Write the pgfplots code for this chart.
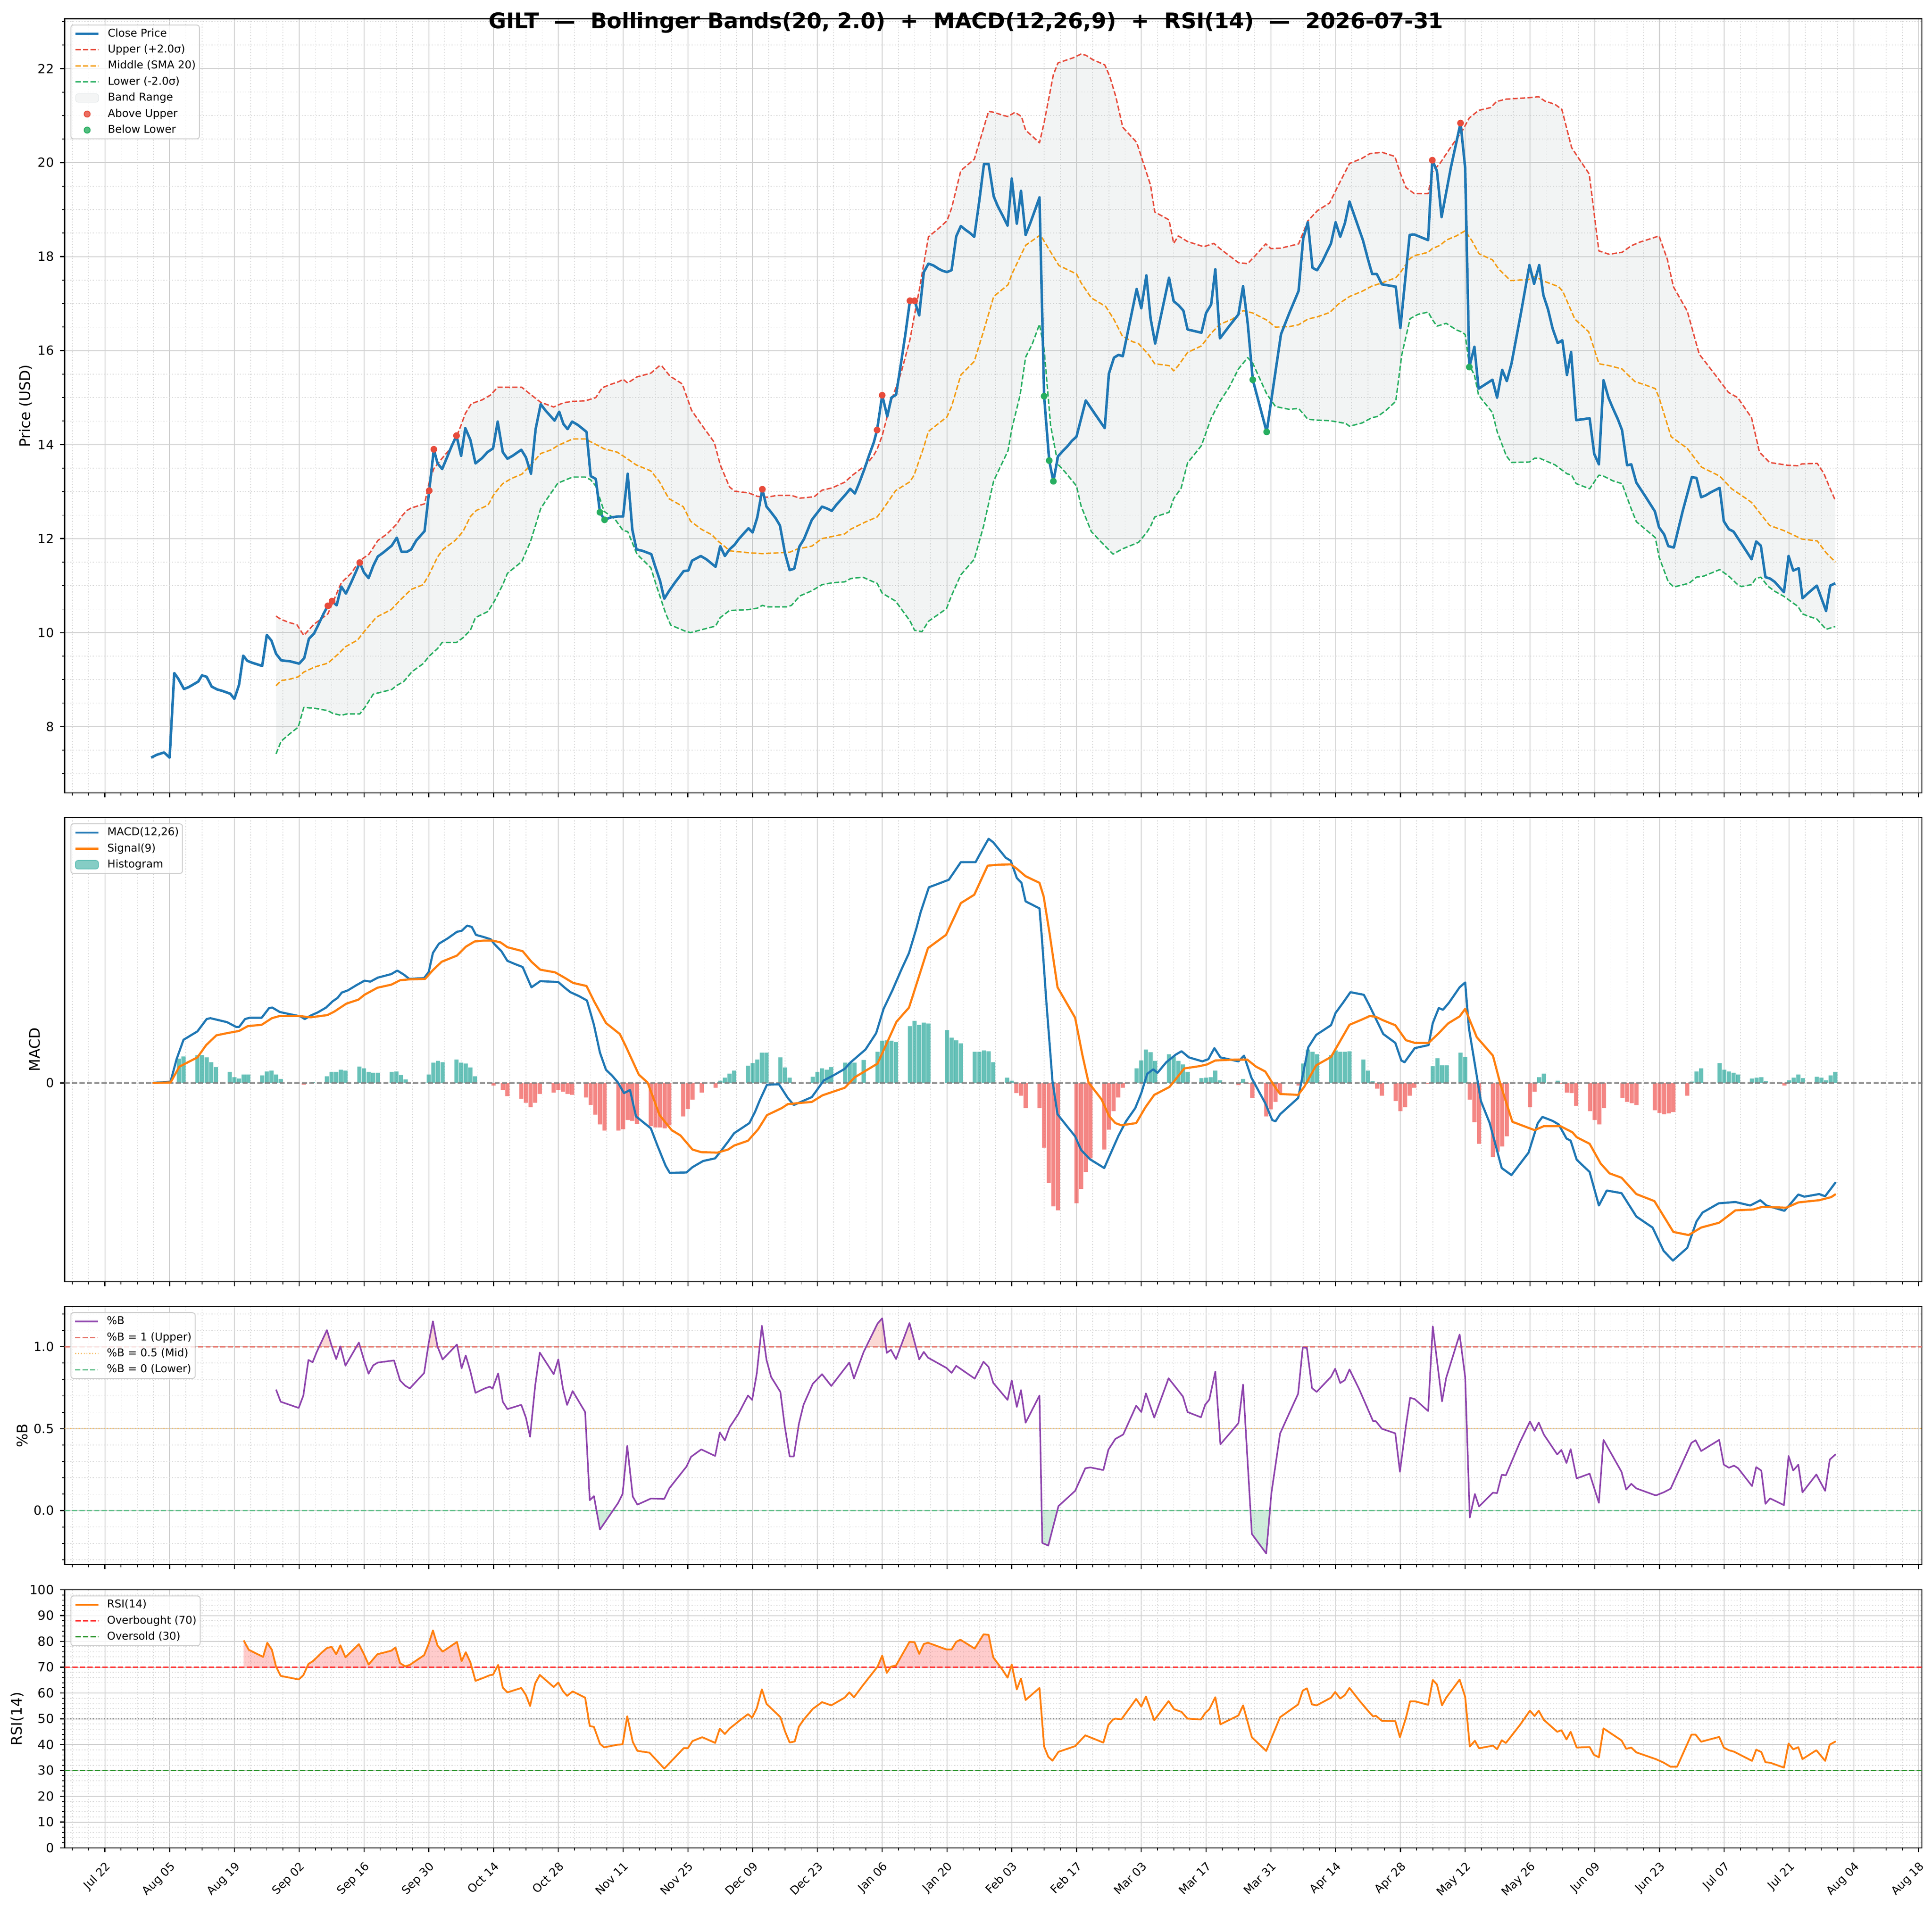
\documentclass[border=0pt]{standalone}
\usepackage{fontspec}
\setmainfont{DejaVu Sans}
\usepackage{pgfplots}
\pgfplotsset{compat=1.18}
\usepgfplotslibrary{fillbetween}
\definecolor{cblue}{HTML}{1F77B4}
\definecolor{corange}{HTML}{FF7F0E}
\definecolor{bred}{HTML}{E74C3C}
\definecolor{borange}{HTML}{F39C12}
\definecolor{bgreen}{HTML}{27AE60}
\definecolor{bandbase}{RGB}{149,165,166}
\definecolor{histpos}{HTML}{26A69A}
\definecolor{histneg}{HTML}{EF5350}
\definecolor{bpurple}{HTML}{8E44AD}
\definecolor{gridmaj}{RGB}{208,208,208}
\definecolor{gridmin}{RGB}{218,218,218}
\definecolor{pbline1}{RGB}{230,120,110}
\definecolor{pbline05}{RGB}{246,192,110}
\definecolor{pbline0}{RGB}{100,192,140}
\definecolor{obred}{RGB}{255,45,45}
\definecolor{osgreen}{RGB}{44,150,44}
\pgfplotsset{
  panel/.style={
    scale only axis, width=1052.15pt,
    xmin=-8.7, xmax=392.7,
    xtick={0,14,...,392},
    minor xtick={-7,-3.5,...,392},
    tick pos=left, tick align=outside,
    major tick length=2.5pt, minor tick length=1.4pt,
    major tick style={black, line width=0.6pt},
    minor tick style={black, line width=0.45pt},
    axis line style={line width=0.6pt},
    xmajorgrids, xminorgrids, ymajorgrids, yminorgrids,
    major grid style={draw=gridmaj, line width=0.5pt},
    minor grid style={draw=gridmin, line width=0.4pt, dash pattern=on 0.6pt off 1pt},
    tick label style={font=\fontsize{7.15}{8.6}\selectfont},
    ylabel style={font=\fontsize{8.25}{9.9}\selectfont},
    ylabel shift=-3.5pt,
    /pgf/number format/assume math mode=true,
    legend cell align=left,
    legend image code/.code={\draw[##1] (0pt,0pt) -- (13pt,0pt);},
    legend style={at={(0,1)}, anchor=north west, xshift=3.3pt, yshift=-3.3pt,
      font=\fontsize{6.1}{7.3}\selectfont, draw=black!20, line width=0.5pt, rounded corners=1.5pt,
      fill=white, fill opacity=0.8, text opacity=1, draw opacity=1,
      inner xsep=2pt, inner ysep=2pt, row sep=3.2pt, column sep=4.5pt,
      nodes={inner sep=0pt, text height=4.6pt, text depth=1.3pt}},
    every axis plot/.append style={line join=round},
  }
}
\begin{document}
\begin{tikzpicture}
%================ PRICE =================
\begin{axis}[panel, at={(36.6pt,-10.625pt)}, anchor=north west, height=438.625pt,
  ymin=6.59, ymax=23.06, ytick={8,10,...,22}, minor ytick={6.5,7,...,23},
  xticklabels={}, ylabel={Price (USD)}]
\addplot[draw=none, name path=upper, forget plot] coordinates {
(37.0,10.35)(38.1,10.28)(40.0,10.21)(41.5,10.17)(43.0,9.94)(44.1,10.06)(45.2,10.18)(46.2,10.25)(48.2,10.40)(49.3,10.65)(51.1,11.06)(53.2,11.26)(55.1,11.53)(57.1,11.67)(59.0,11.96)(61.0,12.10)(63.1,12.31)(64.1,12.47)(65.3,12.60)(66.2,12.65)(69.1,12.74)(70.1,13.20)(71.1,13.49)(72.9,13.71)(75.0,13.95)(76.0,14.17)(76.9,14.39)(77.9,14.66)(79.2,14.87)(81.5,14.95)(83.3,15.05)(84.9,15.22)(90.1,15.22)(92.1,15.06)(94.2,14.90)(97.0,14.80)(99.1,14.89)(101.1,14.92)(103.8,14.93)(106.1,15.00)(107.5,15.21)(109.3,15.28)(111.1,15.34)(112.0,15.39)(113.0,15.31)(115.0,15.44)(118.0,15.52)(119.9,15.68)(120.4,15.67)(122.1,15.46)(124.8,15.29)(126.8,14.73)(128.9,14.43)(131.7,14.05)(133.0,13.57)(135.0,13.10)(136.1,13.01)(139.2,12.97)(141.0,12.90)(143.1,12.88)(145.3,12.92)(148.4,12.92)(150.2,12.86)(153.3,12.89)(155.0,13.03)(157.2,13.08)(159.9,13.20)(161.6,13.35)(164.3,13.55)(166.1,13.76)(166.9,13.90)(168.0,14.19)(170.0,14.94)(172.1,15.53)(174.0,16.23)(175.0,16.77)(176.0,17.28)(178.0,18.42)(180.2,18.60)(182.0,18.76)(183.0,19.03)(185.0,19.83)(187.9,20.07)(189.0,20.43)(191.0,21.09)(192.1,21.07)(194.3,21.00)(195.2,20.98)(196.7,21.07)(198.1,20.98)(199.0,20.69)(202.0,20.42)(203.0,20.85)(205.0,21.87)(206.0,22.12)(209.3,22.23)(211.0,22.31)(212.1,22.28)(213.5,22.19)(216.1,22.08)(217.2,21.83)(218.5,21.40)(220.0,20.75)(223.0,20.43)(226.0,19.52)(226.9,18.95)(230.0,18.78)(231.0,18.28)(232.0,18.44)(234.0,18.32)(237.5,18.21)(239.7,18.28)(241.0,18.17)(245.0,17.87)(247.0,17.85)(249.0,18.06)(250.9,18.27)(252.0,18.17)(254.2,18.18)(258.0,18.27)(259.0,18.51)(260.0,18.76)(262.1,18.98)(264.7,19.14)(266.6,19.52)(269.0,19.98)(271.7,20.09)(273.4,20.19)(276.0,20.22)(278.8,20.13)(280.0,19.77)(281.2,19.47)(283.0,19.34)(286.0,19.34)(286.9,19.80)(288.6,19.99)(290.9,20.33)(293.4,20.68)(294.9,20.95)(296.9,21.11)(299.5,21.17)(300.8,21.30)(302.9,21.35)(307.7,21.38)(309.9,21.40)(311.2,21.31)(313.4,21.24)(314.9,21.13)(317.0,20.32)(318.6,20.08)(320.8,19.76)(322.9,18.12)(325.1,18.05)(327.9,18.09)(329.9,18.23)(331.8,18.31)(334.4,18.39)(335.9,18.44)(337.7,17.94)(339.0,17.36)(342.0,16.84)(344.6,15.92)(345.5,15.81)(349.0,15.36)(350.9,15.11)(352.9,15.00)(355.9,14.57)(357.6,13.84)(359.8,13.62)(363.7,13.56)(365.9,13.55)(366.8,13.59)(370.1,13.60)(371.5,13.39)(372.9,13.06)(374.0,12.81)};
\addplot[draw=none, name path=lower, forget plot] coordinates {
(37.0,7.42)(38.1,7.69)(40.0,7.85)(41.8,7.99)(43.0,8.41)(45.4,8.39)(48.2,8.34)(49.3,8.28)(51.1,8.24)(52.3,8.27)(55.1,8.27)(56.2,8.41)(58.0,8.69)(60.0,8.74)(62.0,8.79)(63.0,8.87)(64.6,8.96)(66.4,9.17)(68.8,9.34)(70.1,9.50)(71.9,9.66)(72.9,9.79)(76.0,9.79)(77.4,9.89)(79.0,10.05)(80.1,10.32)(82.8,10.45)(84.2,10.67)(86.0,11.02)(87.0,11.26)(90.1,11.51)(92.0,11.94)(94.2,12.64)(95.6,12.85)(97.9,13.18)(101.1,13.31)(103.8,13.31)(105.0,13.25)(106.1,13.12)(107.0,12.85)(107.9,12.58)(110.2,12.42)(112.0,12.17)(113.0,12.15)(115.0,11.67)(118.0,11.38)(119.3,10.97)(121.2,10.41)(122.3,10.16)(125.7,10.02)(126.6,10.00)(128.9,10.06)(132.0,10.14)(133.0,10.32)(135.0,10.47)(139.2,10.49)(141.0,10.52)(142.1,10.58)(143.1,10.55)(147.5,10.55)(148.4,10.58)(150.2,10.78)(152.8,10.89)(155.0,11.02)(157.2,11.06)(159.9,11.08)(161.2,11.15)(163.8,11.18)(166.1,11.08)(166.9,11.05)(168.0,10.84)(170.9,10.67)(174.0,10.25)(175.0,10.05)(176.6,10.02)(178.0,10.24)(181.9,10.51)(183.0,10.79)(185.0,11.23)(187.9,11.56)(189.9,12.26)(192.1,13.23)(195.2,13.87)(196.0,14.33)(197.8,15.05)(199.0,15.86)(200.4,16.13)(202.0,16.56)(203.0,16.03)(204.4,14.41)(206.0,13.58)(207.5,13.42)(210.0,13.12)(211.0,12.69)(213.2,12.15)(215.4,11.92)(217.9,11.67)(219.9,11.78)(223.4,11.92)(225.1,12.12)(226.0,12.26)(226.9,12.46)(230.0,12.56)(231.0,12.85)(232.6,13.07)(234.0,13.61)(237.0,13.98)(239.1,14.56)(241.0,14.92)(243.0,15.22)(245.0,15.61)(247.0,15.85)(248.1,15.73)(251.1,15.08)(253.0,14.81)(256.0,14.75)(258.0,14.77)(260.0,14.54)(262.1,14.52)(264.7,14.51)(268.2,14.45)(269.0,14.39)(271.7,14.46)(273.8,14.57)(275.1,14.60)(276.9,14.73)(279.0,14.92)(280.3,15.91)(282.1,16.68)(283.8,16.77)(286.0,16.82)(286.9,16.66)(287.9,16.52)(289.9,16.58)(292.1,16.44)(293.4,16.39)(294.0,16.34)(294.9,15.69)(296.0,15.48)(296.9,15.05)(299.9,14.68)(300.9,14.28)(302.9,13.76)(304.0,13.62)(307.9,13.63)(309.0,13.71)(310.1,13.71)(313.4,13.57)(314.9,13.46)(316.0,13.38)(317.0,13.35)(318.0,13.17)(320.9,13.06)(322.9,13.35)(323.9,13.33)(325.9,13.23)(327.9,13.17)(329.9,12.63)(331.0,12.36)(333.3,12.17)(335.1,12.02)(335.9,11.61)(337.9,11.08)(339.1,10.97)(342.4,11.05)(344.0,11.18)(345.5,11.20)(349.0,11.34)(351.0,11.20)(352.9,11.02)(353.7,10.98)(355.9,11.02)(356.8,11.15)(357.9,11.18)(359.4,10.99)(360.9,10.88)(362.9,10.77)(365.0,10.62)(365.9,10.56)(366.9,10.40)(368.1,10.35)(370.0,10.29)(372.0,10.07)(374.0,10.13)};
\addplot[fill=bandbase, fill opacity=0.12, draw=none, forget plot] fill between[of=upper and lower];
\addplot[bred, line width=0.8pt, dash pattern=on 2.9pt off 1.3pt, forget plot] coordinates {
(37.0,10.35)(38.1,10.28)(40.0,10.21)(41.5,10.17)(43.0,9.94)(44.1,10.06)(45.2,10.18)(46.2,10.25)(48.2,10.40)(49.3,10.65)(51.1,11.06)(53.2,11.26)(55.1,11.53)(57.1,11.67)(59.0,11.96)(61.0,12.10)(63.1,12.31)(64.1,12.47)(65.3,12.60)(66.2,12.65)(69.1,12.74)(70.1,13.20)(71.1,13.49)(72.9,13.71)(75.0,13.95)(76.0,14.17)(76.9,14.39)(77.9,14.66)(79.2,14.87)(81.5,14.95)(83.3,15.05)(84.9,15.22)(90.1,15.22)(92.1,15.06)(94.2,14.90)(97.0,14.80)(99.1,14.89)(101.1,14.92)(103.8,14.93)(106.1,15.00)(107.5,15.21)(109.3,15.28)(111.1,15.34)(112.0,15.39)(113.0,15.31)(115.0,15.44)(118.0,15.52)(119.9,15.68)(120.4,15.67)(122.1,15.46)(124.8,15.29)(126.8,14.73)(128.9,14.43)(131.7,14.05)(133.0,13.57)(135.0,13.10)(136.1,13.01)(139.2,12.97)(141.0,12.90)(143.1,12.88)(145.3,12.92)(148.4,12.92)(150.2,12.86)(153.3,12.89)(155.0,13.03)(157.2,13.08)(159.9,13.20)(161.6,13.35)(164.3,13.55)(166.1,13.76)(166.9,13.90)(168.0,14.19)(170.0,14.94)(172.1,15.53)(174.0,16.23)(175.0,16.77)(176.0,17.28)(178.0,18.42)(180.2,18.60)(182.0,18.76)(183.0,19.03)(185.0,19.83)(187.9,20.07)(189.0,20.43)(191.0,21.09)(192.1,21.07)(194.3,21.00)(195.2,20.98)(196.7,21.07)(198.1,20.98)(199.0,20.69)(202.0,20.42)(203.0,20.85)(205.0,21.87)(206.0,22.12)(209.3,22.23)(211.0,22.31)(212.1,22.28)(213.5,22.19)(216.1,22.08)(217.2,21.83)(218.5,21.40)(220.0,20.75)(223.0,20.43)(226.0,19.52)(226.9,18.95)(230.0,18.78)(231.0,18.28)(232.0,18.44)(234.0,18.32)(237.5,18.21)(239.7,18.28)(241.0,18.17)(245.0,17.87)(247.0,17.85)(249.0,18.06)(250.9,18.27)(252.0,18.17)(254.2,18.18)(258.0,18.27)(259.0,18.51)(260.0,18.76)(262.1,18.98)(264.7,19.14)(266.6,19.52)(269.0,19.98)(271.7,20.09)(273.4,20.19)(276.0,20.22)(278.8,20.13)(280.0,19.77)(281.2,19.47)(283.0,19.34)(286.0,19.34)(286.9,19.80)(288.6,19.99)(290.9,20.33)(293.4,20.68)(294.9,20.95)(296.9,21.11)(299.5,21.17)(300.8,21.30)(302.9,21.35)(307.7,21.38)(309.9,21.40)(311.2,21.31)(313.4,21.24)(314.9,21.13)(317.0,20.32)(318.6,20.08)(320.8,19.76)(322.9,18.12)(325.1,18.05)(327.9,18.09)(329.9,18.23)(331.8,18.31)(334.4,18.39)(335.9,18.44)(337.7,17.94)(339.0,17.36)(342.0,16.84)(344.6,15.92)(345.5,15.81)(349.0,15.36)(350.9,15.11)(352.9,15.00)(355.9,14.57)(357.6,13.84)(359.8,13.62)(363.7,13.56)(365.9,13.55)(366.8,13.59)(370.1,13.60)(371.5,13.39)(372.9,13.06)(374.0,12.81)};
\addplot[borange, line width=0.8pt, dash pattern=on 2.9pt off 1.3pt, forget plot] coordinates {
(37.0,8.87)(38.1,8.98)(40.0,9.01)(41.8,9.06)(43.0,9.16)(45.4,9.27)(48.2,9.35)(50.5,9.55)(52.0,9.70)(54.6,9.84)(56.2,10.04)(58.7,10.33)(61.9,10.49)(63.7,10.68)(66.2,10.92)(68.8,11.02)(70.1,11.24)(71.9,11.61)(73.1,11.77)(75.7,11.96)(77.4,12.15)(79.0,12.47)(80.3,12.60)(82.8,12.71)(84.2,12.96)(86.0,13.17)(87.9,13.28)(90.1,13.37)(92.1,13.57)(94.2,13.81)(96.5,13.89)(97.9,13.98)(101.1,14.12)(103.8,14.12)(106.6,13.98)(107.9,13.91)(110.7,13.84)(112.0,13.76)(114.8,13.57)(118.0,13.44)(119.8,13.22)(121.9,12.85)(125.0,12.68)(126.6,12.37)(128.9,12.20)(131.2,12.08)(132.6,11.94)(134.0,11.83)(135.0,11.74)(139.1,11.70)(142.1,11.68)(148.0,11.71)(149.7,11.78)(152.8,11.84)(155.0,12.00)(159.9,12.10)(161.2,12.20)(164.3,12.35)(166.9,12.46)(168.0,12.60)(170.9,13.02)(174.0,13.21)(174.9,13.35)(177.0,13.95)(178.0,14.28)(182.0,14.59)(183.0,14.81)(185.0,15.48)(187.9,15.77)(189.9,16.41)(192.1,17.15)(195.2,17.40)(196.0,17.62)(199.0,18.24)(202.2,18.46)(204.2,18.13)(206.2,17.81)(210.0,17.63)(211.0,17.44)(213.2,17.12)(216.3,16.94)(218.1,16.66)(219.9,16.31)(222.1,16.19)(223.4,16.15)(225.6,15.91)(226.9,15.72)(230.0,15.68)(231.0,15.57)(232.0,15.68)(234.0,15.96)(237.0,16.10)(239.1,16.37)(241.0,16.56)(243.7,16.67)(246.0,16.85)(248.1,16.80)(251.1,16.65)(253.0,16.50)(256.0,16.51)(258.0,16.55)(260.0,16.67)(262.1,16.72)(264.7,16.81)(266.6,16.99)(269.0,17.15)(271.7,17.26)(273.8,17.37)(276.0,17.44)(279.0,17.55)(280.0,17.66)(282.1,17.96)(283.0,18.02)(286.0,18.09)(286.9,18.17)(288.6,18.24)(289.9,18.35)(292.1,18.44)(294.0,18.55)(295.5,18.33)(297.0,18.06)(299.9,17.93)(301.2,17.74)(303.8,17.49)(307.7,17.51)(309.0,17.58)(311.2,17.47)(314.2,17.36)(315.1,17.26)(317.7,16.67)(320.7,16.40)(322.9,15.72)(325.1,15.68)(327.9,15.61)(329.2,15.48)(330.7,15.34)(332.9,15.27)(335.1,15.19)(335.9,15.00)(338.5,14.17)(342.0,13.92)(345.1,13.52)(349.0,13.33)(351.6,13.06)(354.6,12.86)(355.9,12.77)(359.8,12.28)(362.9,12.17)(366.8,11.99)(370.1,11.95)(372.0,11.70)(374.0,11.50)};
\addplot[bgreen, line width=0.8pt, dash pattern=on 2.9pt off 1.3pt, forget plot] coordinates {
(37.0,7.42)(38.1,7.69)(40.0,7.85)(41.8,7.99)(43.0,8.41)(45.4,8.39)(48.2,8.34)(49.3,8.28)(51.1,8.24)(52.3,8.27)(55.1,8.27)(56.2,8.41)(58.0,8.69)(60.0,8.74)(62.0,8.79)(63.0,8.87)(64.6,8.96)(66.4,9.17)(68.8,9.34)(70.1,9.50)(71.9,9.66)(72.9,9.79)(76.0,9.79)(77.4,9.89)(79.0,10.05)(80.1,10.32)(82.8,10.45)(84.2,10.67)(86.0,11.02)(87.0,11.26)(90.1,11.51)(92.0,11.94)(94.2,12.64)(95.6,12.85)(97.9,13.18)(101.1,13.31)(103.8,13.31)(105.0,13.25)(106.1,13.12)(107.0,12.85)(107.9,12.58)(110.2,12.42)(112.0,12.17)(113.0,12.15)(115.0,11.67)(118.0,11.38)(119.3,10.97)(121.2,10.41)(122.3,10.16)(125.7,10.02)(126.6,10.00)(128.9,10.06)(132.0,10.14)(133.0,10.32)(135.0,10.47)(139.2,10.49)(141.0,10.52)(142.1,10.58)(143.1,10.55)(147.5,10.55)(148.4,10.58)(150.2,10.78)(152.8,10.89)(155.0,11.02)(157.2,11.06)(159.9,11.08)(161.2,11.15)(163.8,11.18)(166.1,11.08)(166.9,11.05)(168.0,10.84)(170.9,10.67)(174.0,10.25)(175.0,10.05)(176.6,10.02)(178.0,10.24)(181.9,10.51)(183.0,10.79)(185.0,11.23)(187.9,11.56)(189.9,12.26)(192.1,13.23)(195.2,13.87)(196.0,14.33)(197.8,15.05)(199.0,15.86)(200.4,16.13)(202.0,16.56)(203.0,16.03)(204.4,14.41)(206.0,13.58)(207.5,13.42)(210.0,13.12)(211.0,12.69)(213.2,12.15)(215.4,11.92)(217.9,11.67)(219.9,11.78)(223.4,11.92)(225.1,12.12)(226.0,12.26)(226.9,12.46)(230.0,12.56)(231.0,12.85)(232.6,13.07)(234.0,13.61)(237.0,13.98)(239.1,14.56)(241.0,14.92)(243.0,15.22)(245.0,15.61)(247.0,15.85)(248.1,15.73)(251.1,15.08)(253.0,14.81)(256.0,14.75)(258.0,14.77)(260.0,14.54)(262.1,14.52)(264.7,14.51)(268.2,14.45)(269.0,14.39)(271.7,14.46)(273.8,14.57)(275.1,14.60)(276.9,14.73)(279.0,14.92)(280.3,15.91)(282.1,16.68)(283.8,16.77)(286.0,16.82)(286.9,16.66)(287.9,16.52)(289.9,16.58)(292.1,16.44)(293.4,16.39)(294.0,16.34)(294.9,15.69)(296.0,15.48)(296.9,15.05)(299.9,14.68)(300.9,14.28)(302.9,13.76)(304.0,13.62)(307.9,13.63)(309.0,13.71)(310.1,13.71)(313.4,13.57)(314.9,13.46)(316.0,13.38)(317.0,13.35)(318.0,13.17)(320.9,13.06)(322.9,13.35)(323.9,13.33)(325.9,13.23)(327.9,13.17)(329.9,12.63)(331.0,12.36)(333.3,12.17)(335.1,12.02)(335.9,11.61)(337.9,11.08)(339.1,10.97)(342.4,11.05)(344.0,11.18)(345.5,11.20)(349.0,11.34)(351.0,11.20)(352.9,11.02)(353.7,10.98)(355.9,11.02)(356.8,11.15)(357.9,11.18)(359.4,10.99)(360.9,10.88)(362.9,10.77)(365.0,10.62)(365.9,10.56)(366.9,10.40)(368.1,10.35)(370.0,10.29)(372.0,10.07)(374.0,10.13)};
\addplot[cblue, line width=1.43pt, forget plot] coordinates {
(10.0,7.34)(11.2,7.40)(12.8,7.45)(14.0,7.34)(15.0,9.14)(15.8,9.03)(17.1,8.80)(18.1,8.84)(19.0,8.89)(20.2,8.96)(21.0,9.09)(22.0,9.06)(23.1,8.85)(24.3,8.79)(25.4,8.76)(27.1,8.70)(28.0,8.59)(29.0,8.89)(29.9,9.51)(30.8,9.40)(31.8,9.36)(33.1,9.32)(34.0,9.29)(35.0,9.95)(36.0,9.83)(37.0,9.55)(38.1,9.41)(40.0,9.39)(42.0,9.34)(43.1,9.46)(44.1,9.87)(45.2,9.98)(46.2,10.18)(47.3,10.41)(48.2,10.57)(49.1,10.67)(50.1,10.58)(51.1,10.98)(52.1,10.83)(53.2,11.06)(54.2,11.28)(55.1,11.49)(56.0,11.28)(57.0,11.16)(58.0,11.42)(59.0,11.62)(60.0,11.69)(61.0,11.77)(62.0,11.85)(63.1,12.02)(64.1,11.72)(65.3,11.72)(66.2,11.77)(67.3,11.96)(69.1,12.16)(70.1,13.02)(71.1,13.90)(71.9,13.60)(72.9,13.48)(74.0,13.74)(75.0,13.98)(76.0,14.19)(77.0,13.76)(77.9,14.35)(79.0,14.10)(80.1,13.60)(81.5,13.71)(82.7,13.84)(83.9,13.92)(84.9,14.49)(86.0,13.84)(87.0,13.70)(88.1,13.76)(90.0,13.89)(91.0,13.73)(92.1,13.38)(93.1,14.33)(94.2,14.86)(95.2,14.73)(96.2,14.62)(97.2,14.51)(98.2,14.70)(99.1,14.44)(100.0,14.33)(101.0,14.49)(102.2,14.42)(103.1,14.35)(104.1,14.27)(105.0,13.33)(106.1,13.27)(107.0,12.56)(108.0,12.40)(109.3,12.45)(110.9,12.47)(112.0,12.47)(113.0,13.38)(114.0,12.19)(114.9,11.77)(116.2,11.74)(118.1,11.67)(118.9,11.42)(120.0,11.10)(120.9,10.72)(121.9,10.88)(123.1,11.05)(125.1,11.31)(126.1,11.32)(126.9,11.53)(128.8,11.63)(130.0,11.56)(132.0,11.40)(133.0,11.84)(134.0,11.63)(135.0,11.77)(136.1,11.87)(137.0,11.99)(138.0,12.10)(139.1,12.22)(140.0,12.13)(141.0,12.45)(142.1,13.05)(143.0,12.68)(144.0,12.56)(145.0,12.43)(145.9,12.28)(147.0,11.69)(148.0,11.33)(149.0,11.36)(150.1,11.83)(151.1,11.99)(152.8,12.40)(155.0,12.68)(156.1,12.64)(157.1,12.59)(158.1,12.72)(159.2,12.84)(160.1,12.94)(161.1,13.06)(162.1,12.96)(163.1,13.20)(164.2,13.49)(165.2,13.78)(166.2,14.05)(166.9,14.31)(168.0,15.05)(169.1,14.60)(170.0,15.00)(171.0,15.06)(172.1,15.75)(173.0,16.34)(174.0,17.06)(175.0,17.06)(176.0,16.75)(177.0,17.67)(178.0,17.85)(179.1,17.81)(180.2,17.74)(181.0,17.70)(182.0,17.67)(183.0,17.71)(184.0,18.43)(185.0,18.65)(186.0,18.57)(187.0,18.50)(187.9,18.42)(189.0,19.19)(190.0,19.97)(191.0,19.97)(192.1,19.28)(193.0,19.07)(194.1,18.86)(195.1,18.66)(196.0,19.66)(197.1,18.70)(198.0,19.40)(199.0,18.46)(200.0,18.71)(201.1,19.01)(202.0,19.26)(203.0,15.03)(204.1,13.66)(205.0,13.22)(206.0,13.75)(207.1,13.87)(208.0,13.96)(209.0,14.08)(210.0,14.17)(212.0,14.94)(214.0,14.65)(216.1,14.35)(217.0,15.51)(218.1,15.85)(219.1,15.91)(220.0,15.88)(222.1,16.88)(223.0,17.31)(224.0,16.90)(225.1,17.60)(226.0,16.69)(227.0,16.15)(228.1,16.67)(230.0,17.55)(231.0,17.05)(232.0,16.97)(233.1,16.85)(234.0,16.45)(237.0,16.38)(238.0,16.80)(239.1,16.98)(240.0,17.73)(241.0,16.26)(243.0,16.52)(245.0,16.77)(246.0,17.37)(247.0,16.58)(248.1,15.38)(251.1,14.27)(253.0,15.55)(254.2,16.35)(256.0,16.80)(258.0,17.27)(259.0,18.39)(260.0,18.73)(261.0,17.76)(262.0,17.71)(263.1,17.89)(265.0,18.28)(266.0,18.73)(267.0,18.42)(268.0,18.71)(269.0,19.17)(271.9,18.35)(273.0,17.94)(273.9,17.63)(274.9,17.63)(276.0,17.41)(279.0,17.36)(280.0,16.48)(282.0,18.46)(283.0,18.47)(286.0,18.35)(286.9,20.05)(287.9,19.82)(288.9,18.84)(290.9,19.89)(293.0,20.84)(294.0,19.89)(294.9,15.65)(296.0,16.08)(296.9,15.19)(299.9,15.38)(300.9,15.00)(302.0,15.59)(303.0,15.35)(304.0,15.72)(306.0,16.77)(307.9,17.82)(308.9,17.42)(310.0,17.82)(310.9,17.18)(311.9,16.88)(312.9,16.47)(314.0,16.16)(315.0,16.22)(316.0,15.48)(316.9,15.97)(318.0,14.52)(320.9,14.56)(321.9,13.80)(322.9,13.58)(323.9,15.37)(325.0,14.99)(325.9,14.78)(327.0,14.54)(327.9,14.31)(329.0,13.56)(329.9,13.58)(331.0,13.19)(332.0,13.04)(333.0,12.89)(335.0,12.58)(335.9,12.24)(337.0,12.09)(337.9,11.84)(339.1,11.81)(341.0,12.58)(343.0,13.31)(344.0,13.29)(345.0,12.88)(346.0,12.92)(347.0,12.98)(349.0,13.08)(349.9,12.37)(351.0,12.20)(352.0,12.15)(354.0,11.85)(355.9,11.56)(356.9,11.94)(357.9,11.85)(358.9,11.18)(359.9,11.15)(360.9,11.08)(362.9,10.86)(363.9,11.63)(364.9,11.32)(366.1,11.37)(366.9,10.73)(368.0,10.83)(370.0,11.00)(371.0,10.73)(372.0,10.46)(372.9,11.00)(374.0,11.05)};
\addplot[only marks, mark=*, mark size=1.7pt, color=bred, mark options={draw=none, fill=bred}, forget plot] coordinates {
(48.2,10.57)(49.1,10.67)(55.1,11.49)(70.1,13.02)(71.1,13.90)(76.0,14.19)(142.1,13.05)(166.9,14.31)(168.0,15.05)(174.0,17.06)(175.0,17.06)(286.9,20.05)(293.0,20.84)};
\addplot[only marks, mark=*, mark size=1.7pt, color=bgreen, mark options={draw=none, fill=bgreen}, forget plot] coordinates {
(107.0,12.56)(108.0,12.40)(203.0,15.03)(204.1,13.66)(205.0,13.22)(248.1,15.38)(251.1,14.27)(294.9,15.65)};
\addlegendimage{cblue, line width=1.43pt}\addlegendentry{Close Price}
\addlegendimage{bred, line width=0.8pt, dash pattern=on 2.9pt off 1.3pt}\addlegendentry{Upper (+2.0σ)}
\addlegendimage{borange, line width=0.8pt, dash pattern=on 2.9pt off 1.3pt}\addlegendentry{Middle (SMA 20)}
\addlegendimage{bgreen, line width=0.8pt, dash pattern=on 2.9pt off 1.3pt}\addlegendentry{Lower (-2.0σ)}
\addlegendimage{legend image code/.code={\fill[bandbase!12, draw=bandbase!25, line width=0.3pt] (0pt,-2.4pt) rectangle (13pt,2.4pt);}}\addlegendentry{Band Range}
\addlegendimage{legend image code/.code={\fill[bred] (6.5pt,0pt) circle (1.7pt);}}\addlegendentry{Above Upper}
\addlegendimage{legend image code/.code={\fill[bgreen] (6.5pt,0pt) circle (1.7pt);}}\addlegendentry{Below Lower}
\end{axis}
%================ MACD =================
\begin{axis}[panel, at={(36.6pt,-463.25pt)}, anchor=north west, height=263pt,
  ymin=-4.51, ymax=6.02, ytick={0}, yticklabels={0}, ymajorgrids=false, yminorgrids=false,
  xticklabels={}, ylabel={MACD}]
\addplot[ybar, bar width=0.9, bar shift=0pt, fill=histpos, fill opacity=0.7, draw=none, forget plot] coordinates {
(16,0.55)(17,0.60)(20,0.63)(21,0.63)(22,0.58)(23,0.47)(24,0.36)(27,0.25)(28,0.13)(29,0.10)(30,0.19)(31,0.19)(34,0.17)(35,0.26)(36,0.28)(37,0.19)(38,0.09)(45,0.02)(48,0.15)(49,0.25)(50,0.25)(51,0.30)(52,0.28)(55,0.37)(56,0.33)(57,0.25)(58,0.23)(59,0.23)(62,0.25)(63,0.26)(64,0.18)(65,0.08)(69,0.01)(70,0.19)(71,0.46)(72,0.50)(73,0.47)(76,0.53)(77,0.46)(78,0.44)(79,0.35)(80,0.15)(83,0.01)(133,0.05)(134,0.12)(135,0.21)(136,0.28)(139,0.39)(140,0.45)(141,0.53)(142,0.69)(143,0.69)(146,0.58)(147,0.35)(148,0.12)(153,0.14)(154,0.25)(155,0.33)(156,0.30)(157,0.36)(160,0.46)(161,0.46)(162,0.46)(164,0.52)(167,0.71)(168,0.96)(169,0.97)(170,0.96)(171,0.93)(174,1.29)(175,1.41)(176,1.32)(177,1.37)(178,1.35)(182,1.20)(183,1.03)(184,0.97)(185,0.90)(188,0.71)(189,0.71)(190,0.74)(191,0.72)(192,0.47)(195,0.12)(196,0.05)(223,0.33)(224,0.51)(225,0.76)(226,0.70)(227,0.50)(230,0.65)(231,0.60)(232,0.50)(233,0.42)(234,0.25)(237,0.11)(238,0.12)(239,0.13)(240,0.28)(241,0.06)(246,0.09)(259,0.44)(260,0.76)(261,0.71)(262,0.65)(265,0.63)(266,0.74)(267,0.71)(268,0.71)(269,0.72)(272,0.53)(273,0.28)(274,0.04)(287,0.38)(288,0.56)(289,0.40)(290,0.40)(293,0.69)(294,0.59)(310,0.13)(311,0.21)(314,0.05)(343,0.03)(344,0.26)(345,0.33)(349,0.45)(350,0.30)(351,0.26)(352,0.23)(353,0.19)(356,0.10)(357,0.12)(358,0.13)(359,0.04)(364,0.06)(365,0.12)(366,0.19)(367,0.11)(370,0.14)(371,0.12)(372,0.06)(373,0.17)(374,0.25)};
\addplot[ybar, bar width=0.9, bar shift=0pt, fill=histneg, fill opacity=0.7, draw=none, forget plot] coordinates {
(43,-0.04)(84,-0.06)(86,-0.16)(87,-0.30)(90,-0.36)(91,-0.45)(92,-0.55)(93,-0.45)(94,-0.25)(97,-0.22)(98,-0.16)(99,-0.20)(100,-0.25)(101,-0.27)(104,-0.33)(105,-0.50)(106,-0.72)(107,-0.94)(108,-1.08)(111,-1.08)(112,-1.05)(113,-0.84)(114,-0.86)(115,-0.93)(118,-0.98)(119,-1.01)(120,-1.01)(121,-1.03)(122,-0.96)(125,-0.76)(126,-0.59)(127,-0.38)(129,-0.22)(132,-0.11)(197,-0.23)(198,-0.29)(199,-0.57)(202,-0.57)(203,-1.47)(204,-2.27)(205,-2.80)(206,-2.89)(210,-2.73)(211,-2.41)(212,-2.02)(213,-1.71)(216,-1.51)(217,-1.06)(218,-0.64)(219,-0.33)(220,-0.11)(245,-0.05)(247,-0.02)(248,-0.34)(251,-0.76)(252,-0.60)(253,-0.43)(254,-0.23)(258,-0.06)(275,-0.13)(276,-0.29)(279,-0.41)(280,-0.64)(281,-0.55)(282,-0.29)(283,-0.11)(286,-0.02)(295,-0.38)(296,-0.89)(297,-1.38)(300,-1.68)(301,-1.56)(302,-1.44)(303,-1.21)(308,-0.55)(309,-0.20)(315,-0.02)(316,-0.22)(317,-0.23)(318,-0.52)(321,-0.64)(322,-0.84)(323,-0.94)(324,-0.57)(328,-0.34)(329,-0.43)(330,-0.46)(331,-0.50)(335,-0.62)(336,-0.68)(337,-0.71)(338,-0.69)(339,-0.66)(342,-0.29)(363,-0.06)};
\addplot[black!50, line width=0.7pt, dash pattern=on 2.9pt off 1.3pt, forget plot] coordinates {(-8.7,0)(392.7,0)};
\addplot[cblue, line width=1.2pt, forget plot] coordinates {
(10.3,0)(14.2,0.03)(15.5,0.54)(17.0,0.98)(20.0,1.17)(22.0,1.45)(22.8,1.47)(26.4,1.38)(28.4,1.27)(29.0,1.27)(30.3,1.45)(31.3,1.48)(33.9,1.48)(35.5,1.70)(36.2,1.71)(37.8,1.61)(40.0,1.56)(42.3,1.51)(43.2,1.45)(44.5,1.53)(46.0,1.60)(47.8,1.71)(49.2,1.85)(50.3,1.93)(51.2,2.05)(52.5,2.10)(54.4,2.22)(56.1,2.32)(57.4,2.30)(59.0,2.39)(61.9,2.47)(63.2,2.55)(64.6,2.46)(65.8,2.36)(69.0,2.38)(70.0,2.52)(70.9,2.95)(72.2,3.16)(74.1,3.28)(76.1,3.43)(77.1,3.45)(78.3,3.57)(79.3,3.54)(80.2,3.36)(81.9,3.31)(83.4,3.26)(84.2,3.15)(85.7,2.99)(87.0,2.77)(88.6,2.70)(90.3,2.63)(92.2,2.17)(94.1,2.31)(98.0,2.29)(99.3,2.17)(100.6,2.06)(102.5,1.97)(104.2,1.87)(105.7,1.32)(107.0,0.69)(108.3,0.30)(109.6,0.17)(110.9,0.01)(112.2,-0.23)(113.5,-0.16)(114.8,-0.76)(116.0,-0.86)(118.0,-1.03)(119.5,-1.44)(121.2,-1.88)(122.1,-2.04)(125.7,-2.03)(127.0,-1.91)(129.3,-1.77)(131.9,-1.71)(133.4,-1.51)(134.7,-1.33)(136.0,-1.14)(139.3,-0.91)(140.5,-0.66)(141.6,-0.38)(143.1,-0.04)(145.7,-0.03)(147.6,-0.34)(148.9,-0.50)(152.8,-0.32)(155.4,0.06)(157.6,0.18)(159.9,0.32)(161.2,0.47)(164.4,0.76)(166.7,1.13)(168.3,1.68)(170.2,2.10)(172.1,2.56)(173.8,2.95)(175.4,3.51)(176.3,3.87)(178.1,4.44)(179.9,4.51)(182.4,4.61)(185.0,5.01)(188.2,5.01)(188.9,5.15)(191.0,5.54)(192.0,5.46)(194.7,5.11)(195.8,5.04)(197.1,4.65)(198.1,4.54)(199.0,4.12)(202.0,3.96)(202.5,3.31)(203.5,1.82)(204.8,0.05)(205.9,-0.71)(207.4,-0.91)(209.7,-1.21)(211.0,-1.52)(212.9,-1.73)(216.0,-1.93)(216.7,-1.76)(219.1,-1.19)(220.7,-0.87)(222.7,-0.57)(224.0,-0.23)(225.3,0.21)(226.6,0.31)(227.5,0.23)(229.4,0.47)(231.4,0.64)(232.7,0.72)(234.3,0.58)(237.2,0.49)(238.5,0.54)(239.8,0.79)(241.1,0.58)(245.0,0.49)(246.2,0.62)(247.8,0.12)(250.8,-0.46)(252.3,-0.84)(253.0,-0.87)(254.0,-0.71)(257.9,-0.34)(259.2,0.33)(260.1,0.81)(261.8,1.09)(265.0,1.31)(266.0,1.59)(267.6,1.82)(269.2,2.06)(272.1,2.00)(273.2,1.78)(276.3,1.11)(278.9,0.91)(280.2,0.51)(280.9,0.47)(283.1,0.79)(286.1,0.86)(287.0,1.36)(288.3,1.70)(289.2,1.66)(290.5,1.82)(292.8,2.17)(294.0,2.28)(294.8,1.25)(297.4,-0.41)(299.3,-0.91)(301.9,-1.93)(304.0,-2.09)(307.7,-1.58)(309.7,-0.91)(310.7,-0.77)(312.9,-0.86)(314.2,-0.94)(315.9,-1.26)(316.8,-1.31)(318.1,-1.74)(320.9,-2.02)(322.9,-2.78)(324.6,-2.44)(327.8,-2.50)(331.0,-3.03)(334.5,-3.28)(336.9,-3.81)(338.9,-4.03)(342.0,-3.74)(344.0,-3.14)(345.3,-2.94)(348.8,-2.73)(352.4,-2.70)(355.6,-2.78)(357.8,-2.66)(359.1,-2.78)(363.0,-2.90)(364.0,-2.78)(366.0,-2.53)(367.3,-2.58)(370.5,-2.52)(371.8,-2.57)(374.1,-2.25)};
\addplot[corange, line width=1.2pt, forget plot] coordinates {
(10.3,0)(14.2,0.01)(16.1,0.37)(20.0,0.58)(21.9,0.86)(24.1,1.08)(26.4,1.13)(29.0,1.18)(30.9,1.29)(33.9,1.32)(36.1,1.47)(37.8,1.52)(41.9,1.52)(44.5,1.49)(48.1,1.54)(49.6,1.62)(52.2,1.80)(54.8,1.89)(56.1,2.00)(58.9,2.16)(61.9,2.23)(63.8,2.33)(65.8,2.35)(69.2,2.36)(70.9,2.56)(72.8,2.75)(76.1,2.89)(78.0,3.09)(79.9,3.21)(81.9,3.23)(83.8,3.23)(85.5,3.19)(87.0,3.08)(90.3,2.99)(92.2,2.75)(94.1,2.57)(97.3,2.51)(99.0,2.41)(101.2,2.27)(104.1,2.20)(105.7,1.86)(108.3,1.36)(111.3,1.11)(112.6,0.83)(115.4,0.19)(117.3,0.01)(119.9,-0.73)(122.5,-1.07)(124.4,-1.19)(127.0,-1.51)(128.9,-1.57)(132.4,-1.58)(134.7,-1.51)(136.0,-1.42)(139.0,-1.31)(141.2,-1.05)(143.1,-0.73)(146.3,-0.57)(147.6,-0.48)(149.6,-0.46)(152.8,-0.43)(155.1,-0.28)(157.9,-0.18)(159.9,-0.11)(162.1,0.13)(167.0,0.44)(171.1,1.39)(173.8,1.71)(177.9,3.06)(181.8,3.36)(185.0,4.08)(187.9,4.27)(190.8,4.93)(193.0,4.95)(195.8,4.96)(197.1,4.86)(199.0,4.69)(202.0,4.54)(202.9,4.23)(204.2,3.38)(205.9,2.17)(209.7,1.48)(211.3,0.62)(212.6,0.01)(215.4,-0.37)(217.1,-0.76)(218.4,-0.91)(219.7,-0.96)(222.9,-0.91)(224.9,-0.55)(226.8,-0.27)(230.1,-0.09)(231.4,0.08)(233.3,0.33)(236.5,0.38)(238.2,0.42)(240.0,0.51)(244.3,0.53)(246.9,0.53)(248.8,0.37)(250.8,0.26)(252.7,-0.06)(254.0,-0.25)(257.9,-0.27)(259.2,-0.09)(261.8,0.40)(265.0,0.59)(269.0,1.32)(271.5,1.43)(273.4,1.52)(274.7,1.50)(276.3,1.42)(278.9,1.31)(281.2,0.97)(283.1,0.91)(286.1,0.91)(288.3,1.13)(290.3,1.35)(292.8,1.51)(294.0,1.68)(296.5,1.04)(300.0,0.62)(301.6,-0.02)(304.2,-0.88)(309.0,-1.07)(311.0,-0.98)(314.6,-0.98)(317.2,-1.12)(318.1,-1.23)(320.9,-1.38)(323.3,-1.83)(325.2,-2.05)(327.8,-2.15)(331.0,-2.52)(334.9,-2.68)(339.0,-3.38)(342.3,-3.45)(345.0,-3.28)(348.9,-3.17)(352.4,-2.89)(356.3,-2.87)(358.2,-2.81)(363.4,-2.83)(366.0,-2.71)(368.6,-2.68)(370.5,-2.66)(373.1,-2.59)(374.1,-2.52)};
\addlegendimage{cblue, line width=1.2pt}\addlegendentry{MACD(12,26)}
\addlegendimage{corange, line width=1.2pt}\addlegendentry{Signal(9)}
\addlegendimage{legend image code/.code={\fill[histpos!70] (0pt,-2.4pt) rectangle (13pt,2.4pt);}}\addlegendentry{Histogram}
\end{axis}
%================ %B =================
\begin{axis}[panel, at={(36.6pt,-740.25pt)}, anchor=north west, height=146.25pt,
  ymin=-0.33, ymax=1.245, ytick={0,0.5,1}, yticklabels={0.0,0.5,1.0}, minor ytick={-0.3,-0.2,...,1.2},
  xticklabels={}, ylabel={\%B}]
% shaded excursions above 1 and below 0 (vertices read from the chart)
\addplot[fill=bred, fill opacity=0.22, draw=none, forget plot] coordinates {(46.4,1)(48.0,1.101)(49.0,1.006)(49.1,1)} -- cycle;
\addplot[fill=bred, fill opacity=0.22, draw=none, forget plot] coordinates {(70.0,1)(70.0,1.024)(70.9,1.155)(71.9,1)} -- cycle;
\addplot[fill=bred, fill opacity=0.22, draw=none, forget plot] coordinates {(164.9,1)(167.0,1.141)(168.0,1.173)(168.8,1)} -- cycle;
\addplot[fill=bred, fill opacity=0.22, draw=none, forget plot] coordinates {(172.0,1)(173.9,1.144)(175.3,1)} -- cycle;
\addplot[fill=bgreen, fill opacity=0.22, draw=none, forget plot] coordinates {(106.3,0)(107.0,-0.116)(109.8,0)} -- cycle;
\addplot[fill=bgreen, fill opacity=0.22, draw=none, forget plot] coordinates {(202.6,0)(202.6,-0.198)(203.9,-0.214)(205.9,0)} -- cycle;
\addplot[fill=bgreen, fill opacity=0.22, draw=none, forget plot] coordinates {(247.9,0)(247.9,-0.143)(251.0,-0.262)(251.7,0)} -- cycle;
\addplot[pbline1, line width=0.75pt, dash pattern=on 2.9pt off 1.3pt, forget plot] coordinates {(-8.7,1)(392.7,1)};
\addplot[pbline05, line width=0.75pt, dash pattern=on 0.6pt off 1pt, forget plot] coordinates {(-8.7,0.5)(392.7,0.5)};
\addplot[pbline0, line width=0.75pt, dash pattern=on 2.9pt off 1.3pt, forget plot] coordinates {(-8.7,0)(392.7,0)};
\addplot[bpurple, line width=0.9pt, forget plot] coordinates {
(37.0,0.738)(38.0,0.664)(41.9,0.626)(42.9,0.702)(44.0,0.919)(44.9,0.905)(45.8,0.968)(48.0,1.101)(49.0,1.006)(50.0,0.924)(50.9,1.002)(52.0,0.884)(54.9,1.025)(56.0,0.919)(57.0,0.835)(58.0,0.886)(59.0,0.903)(62.5,0.916)(63.8,0.794)(64.9,0.762)(65.9,0.745)(69.0,0.839)(70.0,1.024)(70.9,1.155)(71.9,1.000)(73.0,0.922)(76.1,1.013)(77.1,0.868)(78.0,0.946)(79.0,0.849)(80.1,0.718)(82.1,0.745)(83.2,0.756)(83.8,0.744)(85.0,0.837)(86.0,0.664)(87.0,0.619)(90.0,0.645)(91.0,0.567)(91.9,0.450)(93.0,0.762)(94.0,0.964)(97.0,0.832)(98.0,0.922)(99.0,0.745)(99.9,0.644)(101.1,0.729)(103.8,0.601)(104.8,0.063)(105.7,0.088)(107.0,-0.116)(110.9,0.045)(111.9,0.101)(112.9,0.395)(114.1,0.085)(115.1,0.036)(118.0,0.073)(120.9,0.071)(122.0,0.136)(125.7,0.268)(126.7,0.328)(128.9,0.373)(131.9,0.333)(132.9,0.476)(134.0,0.428)(135.0,0.507)(136.9,0.588)(139.0,0.702)(139.9,0.675)(140.9,0.837)(142.0,1.128)(143.0,0.919)(144.0,0.815)(146.0,0.724)(146.9,0.523)(148.0,0.330)(148.9,0.330)(150.0,0.529)(151.0,0.645)(153.0,0.773)(155.0,0.832)(157.0,0.760)(160.9,0.903)(161.9,0.806)(164.0,0.968)(167.0,1.141)(168.0,1.173)(169.0,0.962)(169.9,0.981)(171.0,0.924)(173.9,1.144)(176.0,0.922)(177.0,0.968)(177.9,0.933)(181.9,0.870)(183.0,0.840)(184.0,0.883)(188.0,0.805)(189.9,0.908)(191.0,0.876)(192.0,0.779)(195.1,0.675)(196.0,0.794)(197.1,0.632)(198.0,0.735)(199.0,0.536)(202.0,0.702)(202.6,-0.198)(203.9,-0.214)(206.1,0.027)(209.7,0.120)(211.9,0.258)(213.0,0.263)(215.8,0.247)(216.9,0.372)(218.4,0.437)(220.1,0.464)(222.9,0.640)(224.0,0.601)(225.0,0.715)(226.8,0.567)(229.9,0.807)(233.0,0.696)(234.0,0.601)(236.9,0.569)(237.8,0.645)(238.7,0.677)(240.0,0.848)(241.1,0.404)(245.0,0.533)(246.0,0.769)(247.9,-0.143)(251.0,-0.262)(252.1,0.101)(254.0,0.470)(257.9,0.713)(258.9,0.995)(259.8,0.992)(260.9,0.747)(261.9,0.724)(265.0,0.816)(265.9,0.865)(267.0,0.778)(268.0,0.796)(269.0,0.861)(271.1,0.740)(274.1,0.545)(274.7,0.545)(276.0,0.499)(278.9,0.471)(279.9,0.236)(281.2,0.518)(282.1,0.688)(283.1,0.680)(286.0,0.607)(287.0,1.124)(289.0,0.666)(289.9,0.810)(292.8,1.074)(294.0,0.816)(295.0,-0.043)(296.1,0.101)(297.0,0.025)(300.0,0.109)(300.9,0.106)(301.9,0.218)(302.8,0.215)(305.8,0.415)(308.0,0.543)(309.0,0.486)(309.9,0.537)(311.0,0.464)(313.9,0.342)(314.8,0.370)(315.9,0.290)(316.8,0.375)(318.1,0.196)(320.9,0.225)(322.9,0.047)(323.9,0.431)(327.8,0.236)(328.8,0.128)(329.9,0.163)(331.0,0.135)(335.2,0.092)(336.9,0.111)(338.4,0.133)(339.8,0.220)(342.9,0.413)(343.8,0.429)(345.0,0.363)(348.9,0.431)(349.9,0.280)(351.0,0.261)(352.1,0.274)(353.0,0.258)(356.0,0.149)(356.9,0.265)(358.0,0.244)(358.9,0.041)(359.9,0.074)(362.9,0.033)(363.9,0.333)(364.9,0.244)(366.0,0.280)(366.9,0.111)(369.9,0.220)(371.8,0.120)(372.8,0.311)(374.1,0.344)};
\addlegendimage{bpurple, line width=0.9pt}\addlegendentry{\%B}
\addlegendimage{pbline1, line width=0.75pt, dash pattern=on 2.9pt off 1.3pt}\addlegendentry{\%B = 1 (Upper)}
\addlegendimage{pbline05, line width=0.75pt, dash pattern=on 0.6pt off 1pt}\addlegendentry{\%B = 0.5 (Mid)}
\addlegendimage{pbline0, line width=0.75pt, dash pattern=on 2.9pt off 1.3pt}\addlegendentry{\%B = 0 (Lower)}
\end{axis}
%================ RSI =================
\begin{axis}[panel, at={(36.6pt,-900.75pt)}, anchor=north west, height=146.25pt,
  ymin=0, ymax=100, ytick={0,10,...,100}, minor ytick={0,2,...,100}, ylabel={RSI(14)},
  xticklabels={Jul 22,Aug 05,Aug 19,Sep 02,Sep 16,Sep 30,Oct 14,Oct 28,Nov 11,Nov 25,Dec 09,Dec 23,Jan 06,Jan 20,Feb 03,Feb 17,Mar 03,Mar 17,Mar 31,Apr 14,Apr 28,May 12,May 26,Jun 09,Jun 23,Jul 07,Jul 21,Aug 04,Aug 18},
  xticklabel style={rotate=45, anchor=north east, font=\fontsize{6.5}{7.8}\selectfont}]
% shaded overbought excursions (vertices read from the chart)
\addplot[fill=red, fill opacity=0.2, draw=none, forget plot] coordinates {(30.0,70)(30.0,80.38)(31.1,76.74)(34.2,74.00)(35.1,79.48)(36.1,76.74)(37.0,70.21)(37.06,70)} -- cycle;
\addplot[fill=red, fill opacity=0.2, draw=none, forget plot] coordinates {(43.69,70)(44.0,71.24)(45.0,72.41)(46.9,75.71)(48.0,77.42)(49.0,77.90)(50.0,75.02)(50.9,78.45)(52.0,73.85)(54.9,78.94)(56.0,75.02)(57.0,71.03)(58.9,75.02)(61.9,76.39)(62.8,77.63)(63.8,71.58)(64.9,70.34)(65.9,70.89)(69.0,74.67)(70.0,79.11)(70.9,84.26)(71.9,78.42)(73.0,76.02)(76.1,79.79)(77.1,72.37)(78.0,75.81)(79.0,71.89)(79.29,70)} -- cycle;
\addplot[fill=red, fill opacity=0.2, draw=none, forget plot] coordinates {(84.74,70)(85.0,70.89)(85.10,70)} -- cycle;
\addplot[fill=red, fill opacity=0.2, draw=none, forget plot] coordinates {(166.91,70)(167.0,70.21)(168.0,74.47)(168.67,70)} -- cycle;
\addplot[fill=red, fill opacity=0.2, draw=none, forget plot] coordinates {(169.82,70)(169.9,70.21)(171.0,70.69)(173.9,79.83)(175.0,79.69)(176.0,75.15)(177.0,79.00)(177.9,79.48)(181.9,76.87)(183.0,76.87)(184.0,79.83)(184.9,80.65)(188.0,77.22)(189.9,82.72)(191.0,82.58)(192.0,73.80)(193.6,70)} -- cycle;
\addplot[fill=red, fill opacity=0.2, draw=none, forget plot] coordinates {(195.82,70)(196.0,71.03)(196.12,70)} -- cycle;
\addplot[black!45, line width=0.6pt, dash pattern=on 0.6pt off 1pt, forget plot] coordinates {(-8.7,50)(392.7,50)};
\addplot[obred, line width=0.8pt, dash pattern=on 3pt off 1.3pt, forget plot] coordinates {(-8.7,70)(392.7,70)};
\addplot[osgreen, line width=0.8pt, dash pattern=on 3pt off 1.3pt, forget plot] coordinates {(-8.7,30)(392.7,30)};
\addplot[corange, line width=1.0pt, forget plot] coordinates {
(30.0,80.38)(31.1,76.74)(34.2,74.00)(35.1,79.48)(36.1,76.74)(37.0,70.21)(38.0,66.63)(41.9,65.26)(42.9,66.91)(44.0,71.24)(45.0,72.41)(46.9,75.71)(48.0,77.42)(49.0,77.90)(50.0,75.02)(50.9,78.45)(52.0,73.85)(54.9,78.94)(56.0,75.02)(57.0,71.03)(58.9,75.02)(61.9,76.39)(62.8,77.63)(63.8,71.58)(64.9,70.34)(65.9,70.89)(69.0,74.67)(70.0,79.11)(70.9,84.26)(71.9,78.42)(73.0,76.02)(76.1,79.79)(77.1,72.37)(78.0,75.81)(79.0,71.89)(80.1,64.71)(82.1,66.08)(83.2,66.91)(83.9,67.11)(85.0,70.89)(86.0,62.10)(87.0,60.24)(90.0,61.96)(91.0,59.21)(91.9,54.95)(93.0,63.71)(94.0,67.01)(97.0,62.34)(98.0,64.05)(99.0,60.76)(99.9,58.90)(101.1,60.62)(103.8,58.21)(104.8,47.22)(105.7,46.87)(107.0,40.34)(107.9,38.97)(110.9,40.00)(111.9,40.14)(112.9,51.00)(114.1,41.03)(115.1,37.59)(117.7,36.90)(120.9,30.72)(125.1,38.63)(126.0,38.63)(127.0,41.37)(129.1,42.89)(131.9,40.69)(132.9,46.19)(134.0,44.12)(135.0,46.19)(136.9,48.93)(139.0,51.82)(139.9,50.45)(140.9,54.09)(142.0,61.44)(143.0,55.81)(146.0,50.65)(147.0,45.15)(148.0,40.82)(149.1,41.24)(150.0,46.98)(151.0,49.59)(153.0,53.85)(155.0,56.46)(157.0,55.22)(159.9,58.21)(160.9,60.27)(161.9,58.35)(164.0,63.37)(167.0,70.21)(168.0,74.47)(169.0,67.80)(169.9,70.21)(171.0,70.69)(173.9,79.83)(175.0,79.69)(176.0,75.15)(177.0,79.00)(177.9,79.48)(181.9,76.87)(183.0,76.87)(184.0,79.83)(184.9,80.65)(188.0,77.22)(189.9,82.72)(191.0,82.58)(192.0,73.80)(193.8,69.52)(195.1,65.95)(196.0,71.03)(197.1,61.41)(198.0,65.60)(199.0,57.29)(202.0,61.96)(203.0,39.28)(203.9,35.30)(204.8,33.78)(206.1,37.22)(209.7,39.42)(211.9,43.61)(215.8,40.79)(216.9,47.66)(217.8,49.59)(218.4,50.07)(219.7,49.79)(222.9,57.70)(224.0,54.74)(225.0,58.66)(226.8,49.45)(229.9,56.87)(231.1,53.71)(232.7,52.68)(234.0,50.07)(236.9,49.73)(237.8,52.20)(238.7,53.71)(240.0,58.38)(241.1,47.87)(245.0,51.31)(246.0,55.22)(247.9,42.85)(251.0,37.56)(252.1,42.37)(254.0,50.62)(257.9,55.57)(258.9,60.93)(259.8,61.82)(260.9,55.57)(261.9,55.22)(265.0,58.18)(265.9,60.38)(267.0,57.84)(268.0,59.21)(269.0,61.96)(271.1,57.15)(273.2,52.68)(274.1,50.96)(274.7,51.17)(276.0,49.24)(278.9,49.11)(279.9,42.85)(281.2,50.41)(282.1,56.80)(283.1,56.80)(286.0,55.43)(287.0,65.05)(287.9,63.33)(289.0,55.22)(289.9,58.18)(292.8,65.19)(294.0,58.52)(295.0,39.28)(296.1,41.48)(297.0,38.59)(300.0,39.62)(300.9,38.24)(301.9,41.68)(302.8,40.65)(305.8,47.53)(308.0,53.16)(309.0,51.10)(309.9,53.16)(311.0,49.59)(313.9,44.98)(314.8,45.60)(315.9,42.02)(316.8,44.98)(318.1,38.87)(320.9,39.07)(321.8,36.12)(322.9,35.09)(323.9,46.29)(327.8,41.62)(328.8,38.38)(329.9,38.87)(331.0,37.00)(335.2,34.40)(336.9,33.02)(338.4,31.44)(339.8,31.44)(342.9,43.88)(343.8,43.88)(345.0,41.13)(348.9,42.99)(349.9,38.87)(351.0,37.84)(352.1,37.29)(356.0,33.71)(356.9,38.04)(358.0,37.15)(358.9,33.16)(359.9,33.02)(362.9,31.10)(363.9,40.45)(364.9,38.18)(366.0,39.00)(366.9,34.40)(369.9,37.84)(371.8,33.71)(372.8,40.03)(374.1,41.27)};
\addlegendimage{corange, line width=1.0pt}\addlegendentry{RSI(14)}
\addlegendimage{obred, line width=0.8pt, dash pattern=on 3pt off 1.3pt}\addlegendentry{Overbought (70)}
\addlegendimage{osgreen, line width=0.8pt, dash pattern=on 3pt off 1.3pt}\addlegendentry{Oversold (30)}
\end{axis}
\node[anchor=base, font=\bfseries\fontsize{12.2}{14.6}\selectfont] at (547.25pt,-16.2pt)
  {GILT~~—~~Bollinger Bands(20, 2.0)~~+~~MACD(12,26,9)~~+~~RSI(14)~~—~~2026-07-31};
\pgfresetboundingbox
\path[use as bounding box] (0pt,0pt) rectangle (1094.5pt,-1080.5pt);
\end{tikzpicture}
\end{document}
